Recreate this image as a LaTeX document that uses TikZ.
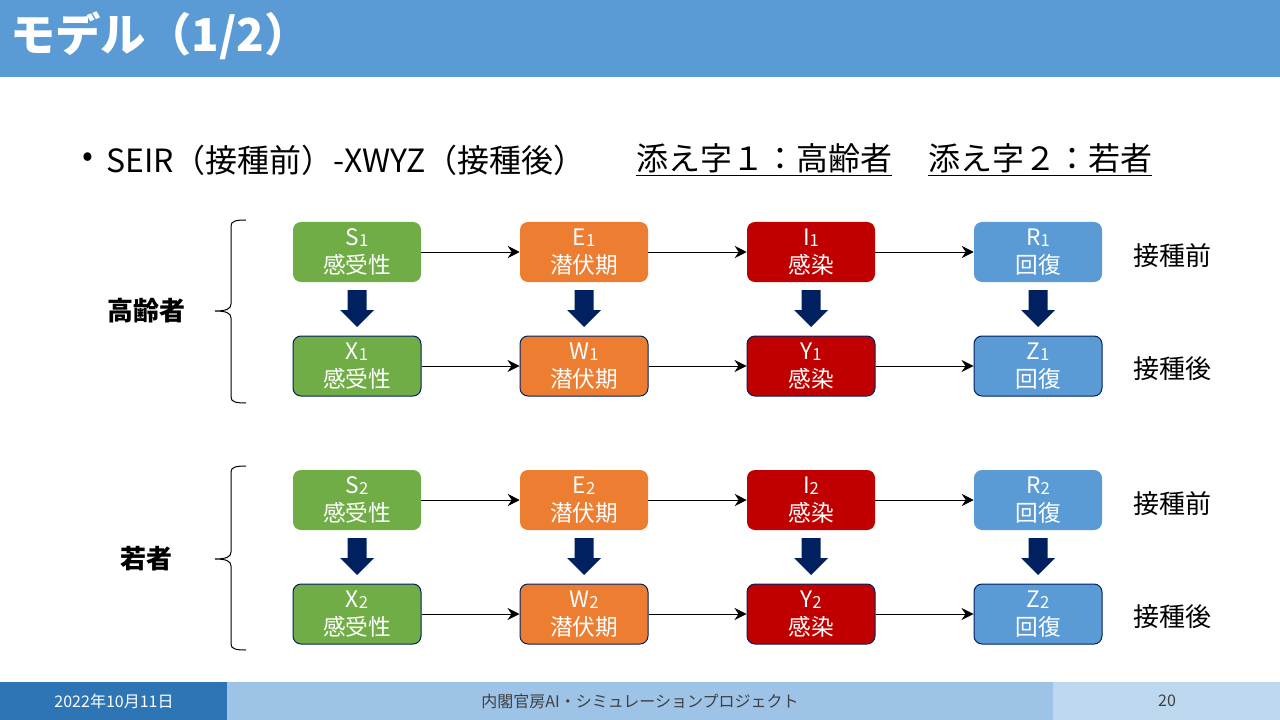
\documentclass[tikz,border=0pt]{standalone}
\usepackage{fontspec}
\setmainfont{Noto Sans CJK JP}
\usetikzlibrary{arrows.meta}
\definecolor{hdr}{HTML}{5B9BD5}
\definecolor{cgreen}{HTML}{70AD47}
\definecolor{corange}{HTML}{ED7D31}
\definecolor{cred}{HTML}{C00000}
\definecolor{cblue}{HTML}{5B9BD5}
\definecolor{navy}{HTML}{002060}
\definecolor{ftA}{HTML}{2E75B6}
\definecolor{ftB}{HTML}{9DC3E6}
\definecolor{ftC}{HTML}{BDD7EE}
\definecolor{ftxt}{HTML}{404040}
\newcommand{\sbn}[1]{\raisebox{-0.1ex}{\fontsize{12.5}{12.5}\selectfont #1}}
\tikzset{
  box/.style={rounded corners=6pt, minimum width=96pt, minimum height=45pt, inner sep=0pt,
    text=white, align=center, font=\fontsize{17}{21}\selectfont},
  pre/.style={box},
  post/.style={box, draw=navy, line width=0.75pt},
  flow/.style={-{Stealth[length=9pt,width=9pt,inset=3pt]}, line width=0.75pt, black},
  blockarrow/.style={fill=navy, draw=none},
  side/.style={font=\fontsize{19.5}{22}\selectfont, text=black},
  grp/.style={font=\bfseries\fontsize{19.5}{22}\selectfont, text=black},
  brc/.style={line width=0.75pt, black},
  bodytxt/.style={anchor=west, inner sep=0pt, font=\fontsize{24}{28}\selectfont},
  foot/.style={font=\fontsize{12}{14}\selectfont},
}
\begin{document}
\begin{tikzpicture}[x=0.75pt,y=-0.75pt]
\useasboundingbox (0,0) rectangle (1280,720);
% title bar
\fill[hdr] (0,0) rectangle (1280,77);
\node[anchor=west, text=white, font=\bfseries\fontsize{34}{38}\selectfont, inner sep=0pt] (title) at (10,36) {モデル（1/2）};
% bullet line
\node[bodytxt] (dot) at (82,160) {•};
\node[bodytxt] (bul) at (106,160) {SEIR（接種前）-XWYZ（接種後）};
\node[bodytxt] (sub1) at (636,160) {\underline{添え字１：高齢者}};
\node[bodytxt] (sub2) at (928,160) {\underline{添え字２：若者}};

% group 1
\node[pre, fill=cgreen]  (S1) at (357,252) {S\sbn{1}\\感受性};
\node[pre, fill=corange] (E1) at (584,252) {E\sbn{1}\\潜伏期};
\node[pre, fill=cred]    (I1) at (811,252) {I\sbn{1}\\感染};
\node[pre, fill=cblue]   (R1) at (1038,252) {R\sbn{1}\\回復};
\node[post, fill=cgreen]  (X1) at (357,366) {X\sbn{1}\\感受性};
\node[post, fill=corange] (W1) at (584,366) {W\sbn{1}\\潜伏期};
\node[post, fill=cred]    (Y1) at (811,366) {Y\sbn{1}\\感染};
\node[post, fill=cblue]   (Z1) at (1038,366) {Z\sbn{1}\\回復};
% group 2
\node[pre, fill=cgreen]  (S2) at (357,500) {S\sbn{2}\\感受性};
\node[pre, fill=corange] (E2) at (584,500) {E\sbn{2}\\潜伏期};
\node[pre, fill=cred]    (I2) at (811,500) {I\sbn{2}\\感染};
\node[pre, fill=cblue]   (R2) at (1038,500) {R\sbn{2}\\回復};
\node[post, fill=cgreen]  (X2) at (357,614) {X\sbn{2}\\感受性};
\node[post, fill=corange] (W2) at (584,614) {W\sbn{2}\\潜伏期};
\node[post, fill=cred]    (Y2) at (811,614) {Y\sbn{2}\\感染};
\node[post, fill=cblue]   (Z2) at (1038,614) {Z\sbn{2}\\回復};

% horizontal flows
\foreach \a/\b in {S1/E1,E1/I1,I1/R1,X1/W1,W1/Y1,Y1/Z1,S2/E2,E2/I2,I2/R2,X2/W2,W2/Y2,Y2/Z2}
  \draw[flow] (\a.east) -- (\b.west);

% block arrows
\foreach \c in {357,584,811,1038}{
  \foreach \t in {290,538}{
    \fill[blockarrow] (\c-9.5,\t) -- (\c+9.5,\t) -- (\c+9.5,\t+20) -- (\c+17,\t+20)
      -- (\c,\t+37) -- (\c-17,\t+20) -- (\c-9.5,\t+20) -- cycle;
  }
}

% side labels
\node[side] (pre1) at (1172,256) {接種前};
\node[side] (post1) at (1172,369) {接種後};
\node[side] (pre2) at (1172,504) {接種前};
\node[side] (post2) at (1172,617) {接種後};

% group labels
\node[grp] (g1) at (146,311) {高齢者};
\node[grp] (g2) at (146,559) {若者};

% braces
\draw[brc] (246,220) .. controls (236,220) and (231,221) .. (231,226) -- (231,304)
  .. controls (231,309) and (226,311) .. (215,311)
  .. controls (226,311) and (231,313) .. (231,318) -- (231,397)
  .. controls (231,402) and (236,403) .. (246,403);
\draw[brc] (246,466) .. controls (236,466) and (231,467) .. (231,472) -- (231,552)
  .. controls (231,557) and (226,559) .. (215,559)
  .. controls (226,559) and (231,561) .. (231,566) -- (231,644)
  .. controls (231,649) and (236,650) .. (246,650);

% footer
\fill[ftA] (0,682) rectangle (227,720);
\fill[ftB] (227,682) rectangle (1053,720);
\fill[ftC] (1053,682) rectangle (1280,720);
\node[foot, text=white] (fdate) at (114,701) {2022年10月11日};
\node[foot, text=ftxt] (fmid) at (640,701) {内閣官房AI・シミュレーションプロジェクト};
\node[foot, text=ftxt] (fnum) at (1167,701) {20};
\end{tikzpicture}
\end{document}
